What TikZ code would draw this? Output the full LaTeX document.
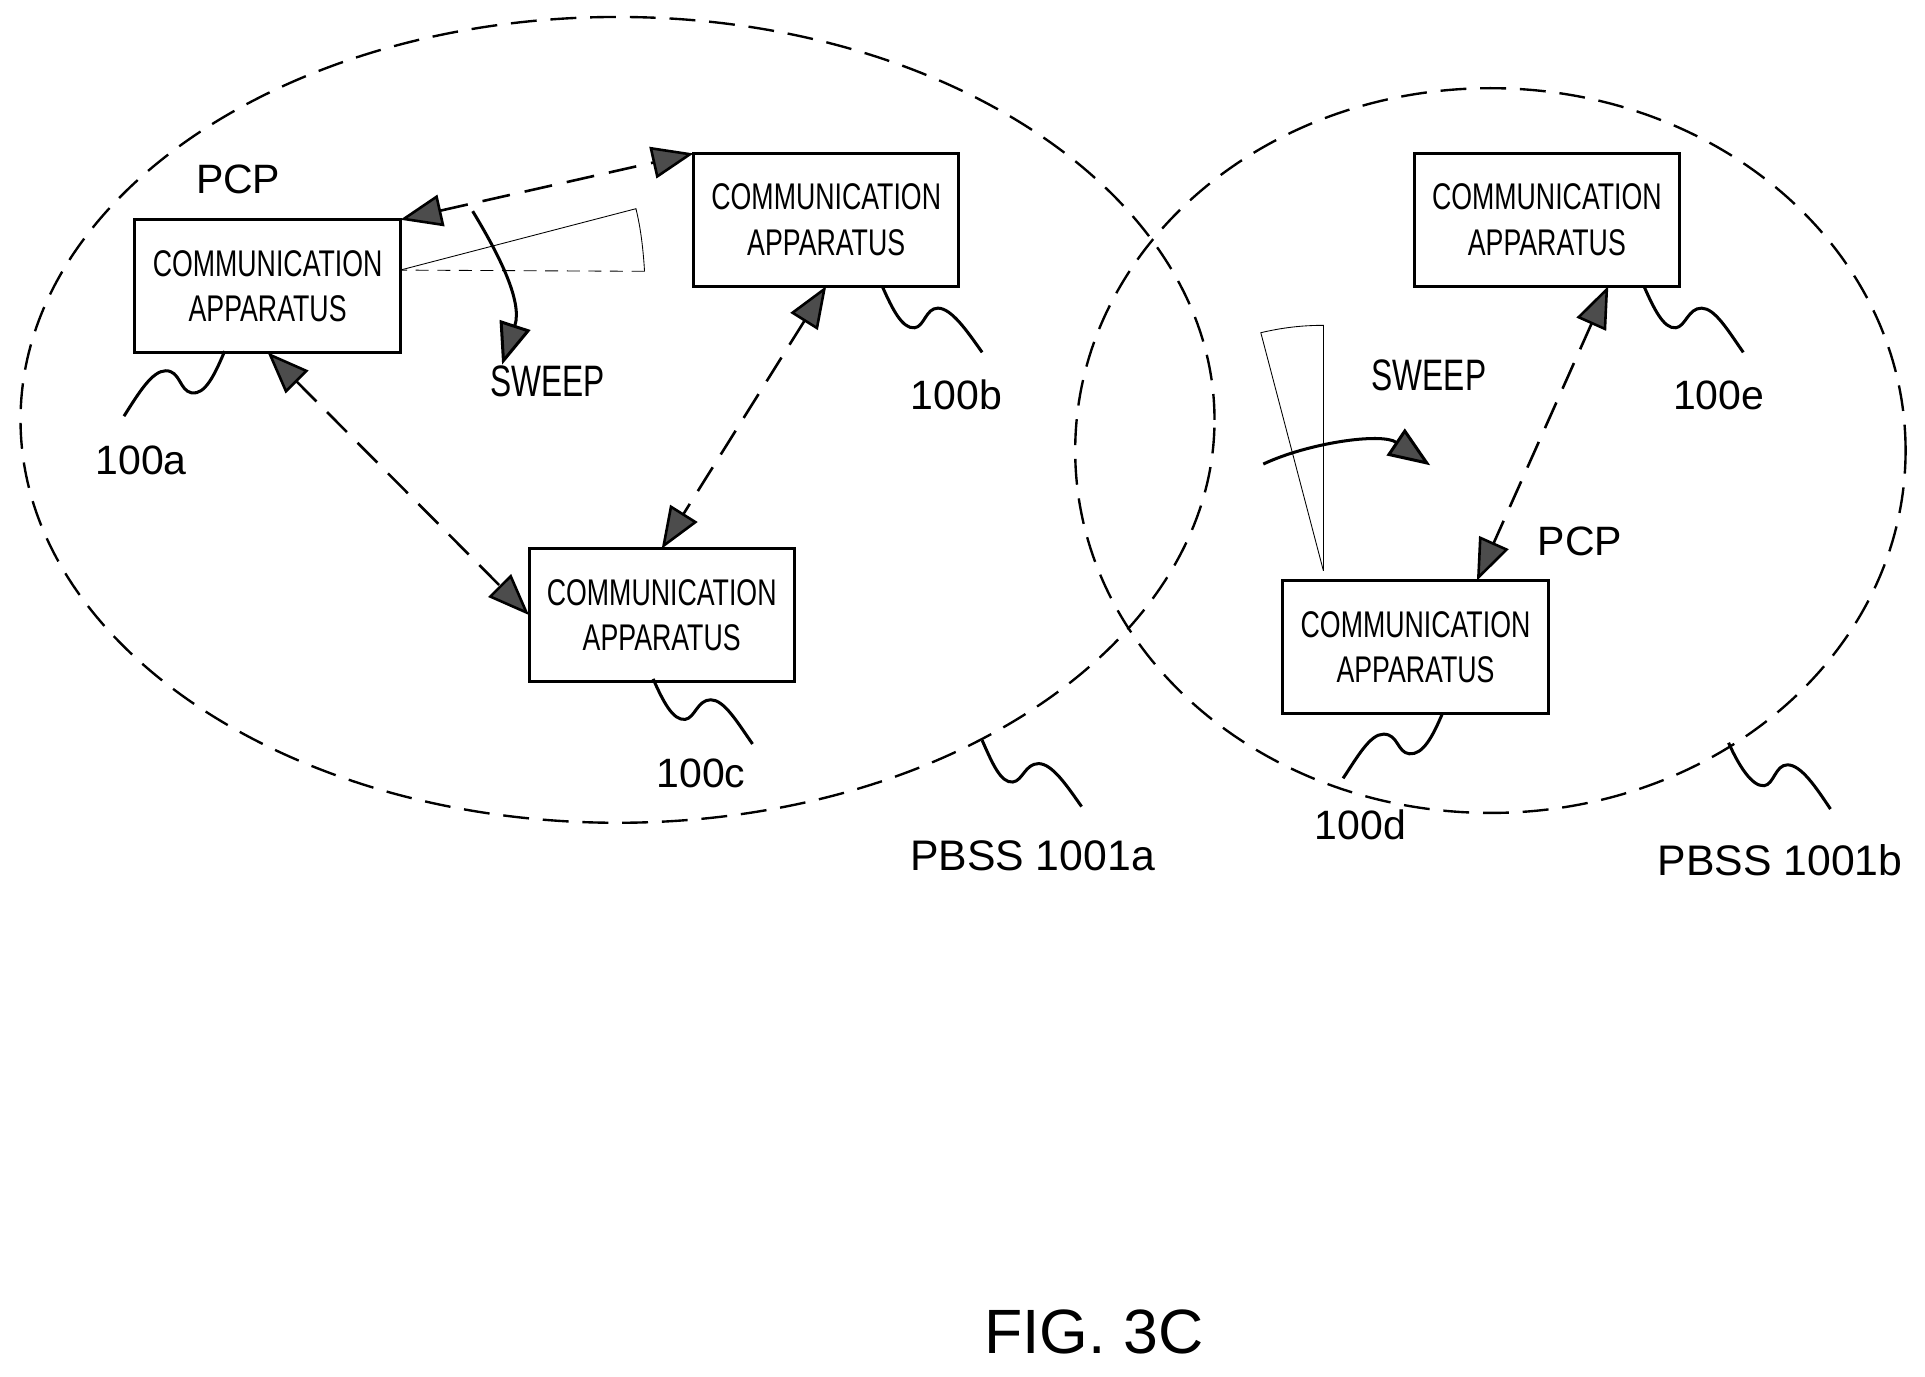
\documentclass[tikz,border=0pt]{standalone}
\usepackage{fontspec}
\setmainfont{Liberation Sans}
\newfontfamily\narrowfont[FakeStretch=0.72]{Liberation Sans}
\usepackage{tikz}
\usetikzlibrary{shapes.geometric, positioning, arrows.meta}

\begin{document}
\begin{tikzpicture}[
    x=0.01cm, y=-0.01cm,
    apparatus/.style={rectangle, draw, line width=0.7pt, minimum width=2.16cm, minimum height=1.08cm, inner sep=0pt, outer sep=0pt, align=center, font=\narrowfont\fontsize{8.6}{10.5}\selectfont},
    pbss/.style={ellipse, draw, line width=0.55pt, dash pattern=on 6pt off 3.2pt, inner sep=0pt, outer sep=0pt},
    link/.style={{Triangle[length=0.34cm,width=0.26cm,fill=black!70]}-{Triangle[length=0.34cm,width=0.26cm,fill=black!70]}, line width=0.6pt, dash pattern=on 6.5pt off 3.5pt},
    sweeparrow/.style={-{Triangle[length=0.34cm,width=0.26cm,fill=black!70]}, line width=0.7pt},
    beam/.style={line width=0.2pt},
    leader/.style={line width=0.7pt},
    reflabel/.style={font=\fontsize{9.5}{11}\selectfont, inner sep=0pt},
    pbsslabel/.style={font=\fontsize{9.9}{11}\selectfont, inner sep=0pt},
    sweeplabel/.style={font=\narrowfont\fontsize{10.2}{12}\selectfont, inner sep=0pt}
]
    \useasboundingbox (0, 0) rectangle (1568, 1121);

    % Coverage areas
    \node[pbss, minimum width=9.72cm, minimum height=6.56cm] (pbssa) at (503, 342) {};
    \node[pbss, minimum width=6.76cm, minimum height=5.90cm] (pbssb) at (1214, 367) {};

    % Communication apparatuses
    \node[apparatus] (boxa) at (218, 233) {COMMUNICATION\\APPARATUS};
    \node[apparatus] (boxb) at (673, 179) {COMMUNICATION\\APPARATUS};
    \node[apparatus] (boxc) at (539, 501) {COMMUNICATION\\APPARATUS};
    \node[apparatus] (boxd) at (1153, 527) {COMMUNICATION\\APPARATUS};
    \node[apparatus] (boxe) at (1260, 179) {COMMUNICATION\\APPARATUS};

    % Links
    \draw[link] (boxa.north east) -- (boxb.north west);
    \draw[link] (boxa.south) -- (boxc.west);
    \draw[link] (boxb.south) -- (boxc.north);
    \draw[link] ([xshift=0.5cm]boxe.south) -- ([xshift=0.5cm]boxd.north);

    % Beam and sweep of 100a
    \coordinate (apexa) at (326, 220);
    \draw[beam] (apexa) -- (518, 170) .. controls (522, 186) and (524, 204) .. (525, 221);
    \draw[beam, densely dashed] (525, 221) -- (apexa);
    \coordinate (sweepa) at (385, 172);
    \coordinate (sweepaend) at (409, 297);
    \draw[sweeparrow] (sweepa) .. controls (405, 205) and (426, 245) .. (sweepaend);

    % Beam and sweep of 100d
    \coordinate (apexd) at (1078, 465);
    \draw[beam] (apexd) -- (1027, 271) .. controls (1044, 267) and (1060, 265) .. (1078, 265) -- (apexd);
    \coordinate (sweepd) at (1029, 378);
    \coordinate (sweepdend) at (1165, 379);
    \draw[sweeparrow] (sweepd) .. controls (1065, 361) and (1125, 352) .. (sweepdend);

    % Leaders
    \draw[leader] (183, 286) .. controls (175, 305) and (167, 322) .. (156, 320) .. controls (146, 318) and (147, 302) .. (135, 302) .. controls (124, 302) and (113, 320) .. (101, 339);
    \draw[leader] (719, 234) .. controls (727, 252) and (735, 268) .. (745, 267) .. controls (753, 266) and (754, 251) .. (764, 251) .. controls (775, 251) and (788, 270) .. (800, 287);
    \draw[leader] (532, 553) .. controls (540, 571) and (548, 587) .. (558, 586) .. controls (566, 585) and (568, 570) .. (579, 570) .. controls (590, 570) and (601, 589) .. (613, 606);
    \draw[leader] (1175, 581) .. controls (1167, 600) and (1159, 615) .. (1148, 614) .. controls (1138, 613) and (1139, 598) .. (1127, 598) .. controls (1116, 598) and (1106, 616) .. (1094, 634);
    \draw[leader] (1339, 233) .. controls (1347, 251) and (1355, 268) .. (1365, 267) .. controls (1373, 266) and (1375, 251) .. (1386, 251) .. controls (1397, 251) and (1408, 270) .. (1420, 287);
    \draw[leader] (800, 603) .. controls (808, 621) and (815, 638) .. (825, 637) .. controls (833, 636) and (835, 622) .. (846, 622) .. controls (857, 622) and (869, 640) .. (881, 657);
    \draw[leader] (1408, 605) .. controls (1416, 623) and (1427, 641) .. (1437, 640) .. controls (1445, 639) and (1446, 623) .. (1456, 623) .. controls (1467, 623) and (1479, 641) .. (1491, 659);

    % Labels
    \node[reflabel] (pcpa) at (194, 146) {PCP};
    \node[reflabel] (pcpd) at (1287, 441) {PCP};
    \node[sweeplabel] (sweeplabela) at (446, 311) {SWEEP};
    \node[sweeplabel] (sweeplabeld) at (1164, 306) {SWEEP};
    \node[reflabel] (labela) at (115, 375) {100a};
    \node[reflabel] (labelb) at (779, 322) {100b};
    \node[reflabel] (labelc) at (571, 630) {100c};
    \node[reflabel] (labeld) at (1108, 672) {100d};
    \node[reflabel] (labele) at (1400, 322) {100e};
    \node[pbsslabel] (labelpa) at (841, 697) {PBSS 1001a};
    \node[pbsslabel] (labelpb) at (1450, 701) {PBSS 1001b};
    \node[font=\fontsize{14.5}{16}\selectfont, inner sep=0pt] (fig) at (891, 1085) {FIG. 3C};
\end{tikzpicture}
\end{document}
